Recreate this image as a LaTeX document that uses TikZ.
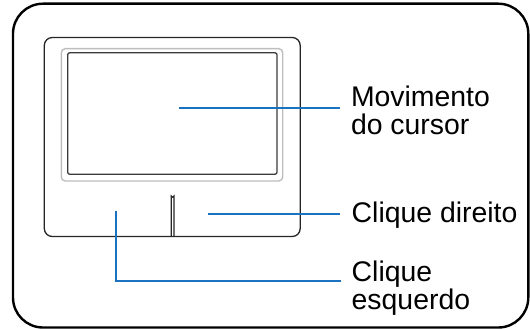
\documentclass[tikz,border=0pt]{standalone}
\usepackage{fontspec}
\setmainfont{Liberation Sans}
\definecolor{callout}{HTML}{1A72C0}
\definecolor{padgray}{HTML}{BDBDBD}
\definecolor{paddark}{HTML}{3A3A3A}
\tikzset{
  frame/.style={draw=black, line width=2.4pt, rounded corners=30pt},
  padouter/.style={draw=black!85, line width=1.3pt, rounded corners=8pt},
  padlight/.style={draw=padgray, line width=1.4pt, rounded corners=4pt},
  padinner/.style={draw=paddark, line width=1.3pt, rounded corners=2pt},
  leader/.style={draw=callout, line width=2pt},
  label/.style={anchor=base west, inner sep=0pt, align=left,
    font=\fontsize{28.4pt}{27.6pt}\selectfont},
}
\begin{document}
\begin{tikzpicture}[x=1pt,y=-1pt]
\useasboundingbox (0,0) rectangle (530,329);
% outer frame
\draw[frame] (13,3.7) rectangle (528.3,327.5);
% touchpad
\draw[padouter] (44.3,37.5) rectangle (300.2,236.5);
\draw[padlight] (61.3,48.7) rectangle (282.7,181);
\draw[padinner] (67.7,52.8) rectangle (277,174.2);
% button divider slot
\draw[draw=black!85, line width=1.1pt] (171.2,236.5) -- (171.2,195.8)
  arc[start angle=180, end angle=0, radius=1.4] -- (174,236.5);
% labels (base anchor = baseline of the last line)
\node[label] (mov) at (350.8,134.2) {Movimento\\do cursor};
\node[label] (dir) at (351.5,222) {Clique direito};
\node[label] (esq) at (351.5,309.2) {Clique\\esquerdo};
% leader endpoints
\coordinate (movA) at (179,108);
\coordinate (movB) at (340,108);
\coordinate (dirA) at (208,214);
\coordinate (dirB) at (340,214);
\coordinate (esqA) at (116,210.7);
\coordinate (esqB) at (341,281);
\draw[leader] (movA) -- (movB);
\draw[leader] (dirA) -- (dirB);
\draw[leader] (esqA) |- (esqB);
\end{tikzpicture}
\end{document}
